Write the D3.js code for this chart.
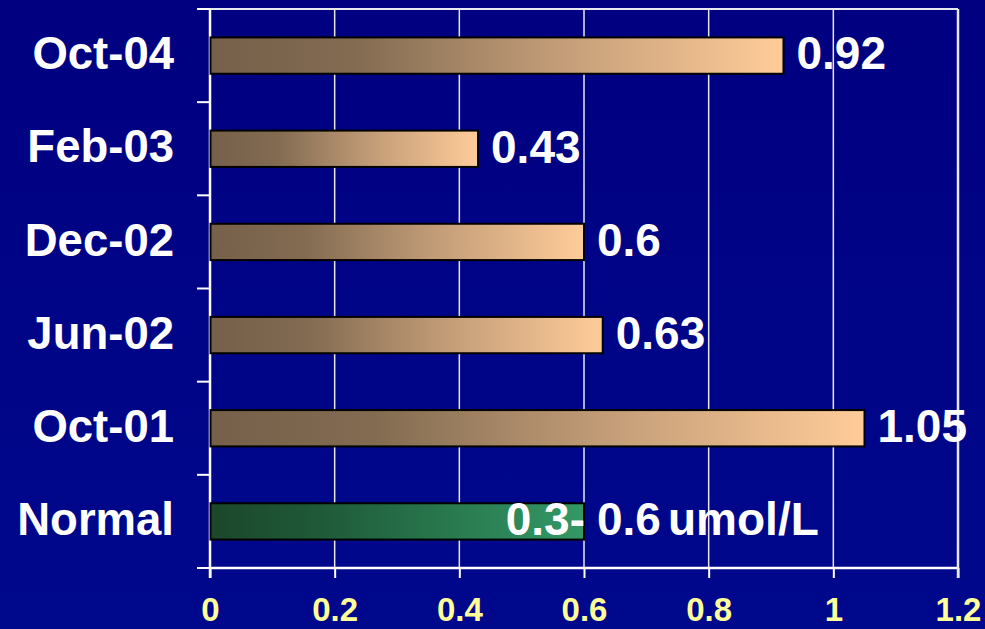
<!DOCTYPE html>
<html>
<head>
<meta charset="utf-8">
<script src="https://cdn.jsdelivr.net/npm/d3@7"></script>
<style>
  html, body { margin: 0; padding: 0; background: #000080; }
  svg { display: block; }
  text { font-family: "Liberation Sans", Arial, sans-serif; font-weight: bold; }
</style>
</head>
<body>
<svg id="chart" width="985" height="629"></svg>
<script>
// Measurement dates (top to bottom) and their values
const categories = ["Oct-04", "Feb-03", "Dec-02", "Jun-02", "Oct-01", "Normal"];
const values = [0.92, 0.43, 0.6, 0.63, 1.05, 0.6];
const xTicks = [0, 0.2, 0.4, 0.6, 0.8, 1, 1.2];
const tickLabels = ["0", "0.2", "0.4", "0.6", "0.8", "1", "1.2"];
const normalRange = { low: "0.3-", unit: "umol/L" };

const W = 985, H = 629;
const margin = { left: 210, right: 27, top: 9, bottom: 61 };
const innerW = W - margin.left - margin.right;
const innerH = H - margin.top - margin.bottom;

const svg = d3.select("#chart");
const defs = svg.append("defs");

// background
const bg = defs.append("linearGradient").attr("id", "bg")
  .attr("x1", 0).attr("y1", 0).attr("x2", 0).attr("y2", 1);
bg.append("stop").attr("offset", 0).attr("stop-color", "#000080");
bg.append("stop").attr("offset", 1).attr("stop-color", "#00088c");
svg.append("rect").attr("width", W).attr("height", H).attr("fill", "url(#bg)");

const tan = defs.append("linearGradient").attr("id", "tan");
[[0, "#76604a"], [0.25, "#826b51"], [0.6, "#c29c77"], [1, "#ffcc99"]]
  .forEach(([o, c]) => tan.append("stop").attr("offset", o).attr("stop-color", c));
const green = defs.append("linearGradient").attr("id", "green");
[[0, "#1b472b"], [0.3, "#1f5a38"], [1, "#339966"]]
  .forEach(([o, c]) => green.append("stop").attr("offset", o).attr("stop-color", c));

const x = d3.scaleLinear().domain([0, 1.2]).range([0, innerW]);
const y = d3.scaleBand().domain(categories).range([0, innerH]).paddingInner(0.61).paddingOuter(0.305);
const yEdges = d3.scaleBand().domain(categories).range([0, innerH]);

const g = svg.append("g").attr("transform", `translate(${margin.left},${margin.top})`);

// vertical gridlines
g.append("g").selectAll("line").data(xTicks.slice(1, -1)).join("line")
  .attr("x1", d => x(d)).attr("x2", d => x(d))
  .attr("y1", 0).attr("y2", innerH)
  .attr("stroke", "#e8e8f0").attr("stroke-width", 1.5);

// bottom axis
const xAxis = d3.axisBottom(x).tickValues(xTicks)
  .tickFormat((d, i) => tickLabels[i]).tickSize(10).tickPadding(20);
const xa = g.append("g").attr("transform", `translate(0,${innerH})`).call(xAxis);
xa.select(".domain").remove();
xa.selectAll(".tick line").attr("stroke", "#ffffff").attr("stroke-width", 2);
xa.selectAll(".tick text").attr("fill", "#ffff99").style("font-size", "33px")
  .attr("dy", "0.71em");

// left axis with tick marks at band boundaries
const edges = categories.map(c => yEdges(c)).concat([innerH]);
g.append("g").selectAll("line").data(edges).join("line")
  .attr("x1", -13).attr("x2", 0).attr("y1", d => d).attr("y2", d => d)
  .attr("stroke", "#ffffff").attr("stroke-width", 2);

// frame
g.append("line").attr("x1", 0).attr("x2", innerW).attr("y1", 0).attr("y2", 0)
  .attr("stroke", "#e8e8f0").attr("stroke-width", 2);
g.append("line").attr("x1", 0).attr("x2", innerW).attr("y1", innerH).attr("y2", innerH)
  .attr("stroke", "#ffffff").attr("stroke-width", 2.5);
g.append("line").attr("x1", innerW).attr("x2", innerW).attr("y1", 0).attr("y2", innerH + 10)
  .attr("stroke", "#e8e8f0").attr("stroke-width", 2.5);
g.append("line").attr("x1", 0).attr("x2", 0).attr("y1", 0).attr("y2", innerH + 10)
  .attr("stroke", "#ffffff").attr("stroke-width", 2.5);

// bars
g.append("g").selectAll("rect").data(categories).join("rect")
  .attr("x", 0.5)
  .attr("y", d => y(d))
  .attr("width", (d, i) => x(values[i]) - 0.5)
  .attr("height", y.bandwidth())
  .attr("fill", d => d === "Normal" ? "url(#green)" : "url(#tan)")
  .attr("stroke", "#000000").attr("stroke-width", 2);

// category labels
g.append("g").selectAll("text").data(categories).join("text")
  .attr("x", -36)
  .attr("y", d => y(d) + y.bandwidth() / 2)
  .attr("dy", "0.3em")
  .attr("text-anchor", "end")
  .attr("fill", "#ffffff")
  .style("font-size", "45.5px")
  .text(d => d);

// value labels
g.append("g").selectAll("text").data(categories).join("text")
  .attr("x", (d, i) => x(values[i]) + 13)
  .attr("y", d => y(d) + y.bandwidth() / 2)
  .attr("dy", "0.3em")
  .attr("fill", "#ffffff")
  .style("font-size", "46px")
  .text((d, i) => values[i]);

// normal range annotation around the reference value
const ny = y("Normal") + y.bandwidth() / 2;
const nEnd = x(values[categories.indexOf("Normal")]);
g.append("text").attr("x", nEnd + 1).attr("y", ny).attr("dy", "0.3em")
  .attr("text-anchor", "end").attr("fill", "#ffffff").style("font-size", "46px")
  .text(normalRange.low);
g.append("text").attr("x", nEnd + 84).attr("y", ny).attr("dy", "0.3em")
  .attr("fill", "#ffffff").style("font-size", "46px")
  .text(normalRange.unit);
</script>
</body>
</html>
